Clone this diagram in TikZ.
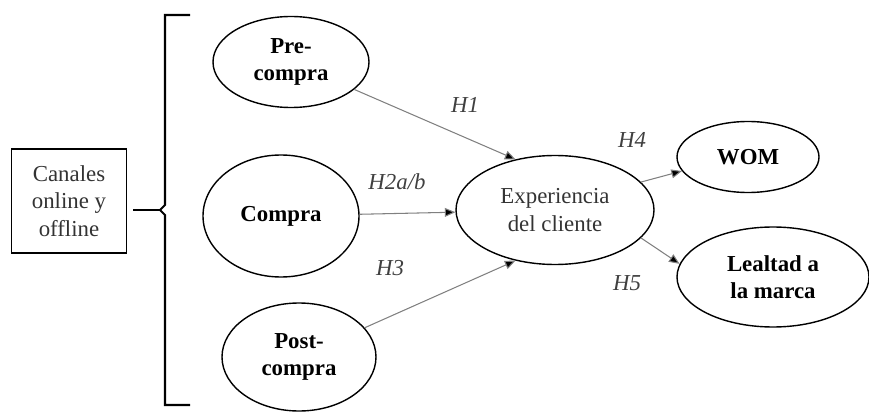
\documentclass[tikz,border=0pt]{standalone}
\usepackage{fontspec}
\setmainfont{Liberation Serif}[BoldFont={Liberation Serif Bold}, ItalicFont={Liberation Serif Italic}]
\usetikzlibrary{arrows.meta, shapes.geometric}

\begin{document}
\begin{tikzpicture}[x=0.02cm, y=-0.02cm, font=\fontsize{13}{15.5}\selectfont,
	construct/.style={draw, thick, ellipse, inner sep=0pt, align=center, font=\fontsize{13}{15.5}\selectfont\bfseries},
	path/.style={draw=gray, semithick, -{Triangle[length=6pt, width=5pt, fill=black]}},
	hyp/.style={font=\fontsize{13}{15.5}\selectfont\itshape, text=black!75}]
	\useasboundingbox (0, 0) rectangle (869, 412);
	\node[draw, thick, minimum width=115*0.02cm, minimum height=104*0.02cm, align=center, text=black!80] (canales) at (69, 201) {Canales\\online y\\offline};
	\coordinate (tip) at (160, 210);
	\draw[very thick] (190, 15) -- (165, 15) -- (165, 205) -- (tip) -- (165, 215) -- (165, 405) -- (190, 405);
	\draw[very thick] (133, 210) -- (tip);
	\node[construct, minimum width=156*0.02cm, minimum height=91*0.02cm] (pre) at (291, 62) {Pre-\\compra};
	\node[construct, minimum width=156*0.02cm, minimum height=122*0.02cm] (compra) at (281, 216) {Compra};
	\node[construct, minimum width=154*0.02cm, minimum height=108*0.02cm] (post) at (299, 357) {Post-\\compra};
	\node[construct, font=\fontsize{13}{15.5}\selectfont, text=black!80, minimum width=198*0.02cm, minimum height=109*0.02cm] (exp) at (555, 210) {Experiencia\\del cliente};
	\node[construct, minimum width=142*0.02cm, minimum height=71*0.02cm] (wom) at (748, 157) {WOM};
	\node[construct, minimum width=192*0.02cm, minimum height=100*0.02cm] (lealtad) at (773, 277) {Lealtad a\\la marca};
	\draw[path] (pre) -- (exp.128);
	\draw[path] (compra) -- (exp);
	\draw[path] (post) -- (exp.232);
	\draw[path] (exp.18) -- (wom.192);
	\draw[path] (exp.-18) -- (lealtad.172);
	\node[hyp] (h1) at (465, 105) {H1};
	\node[hyp] (h2) at (397, 182) {H2a/b};
	\node[hyp] (h3) at (390, 268) {H3};
	\node[hyp] (h4) at (632, 140) {H4};
	\node[hyp] (h5) at (627, 283) {H5};
\end{tikzpicture}
\end{document}
